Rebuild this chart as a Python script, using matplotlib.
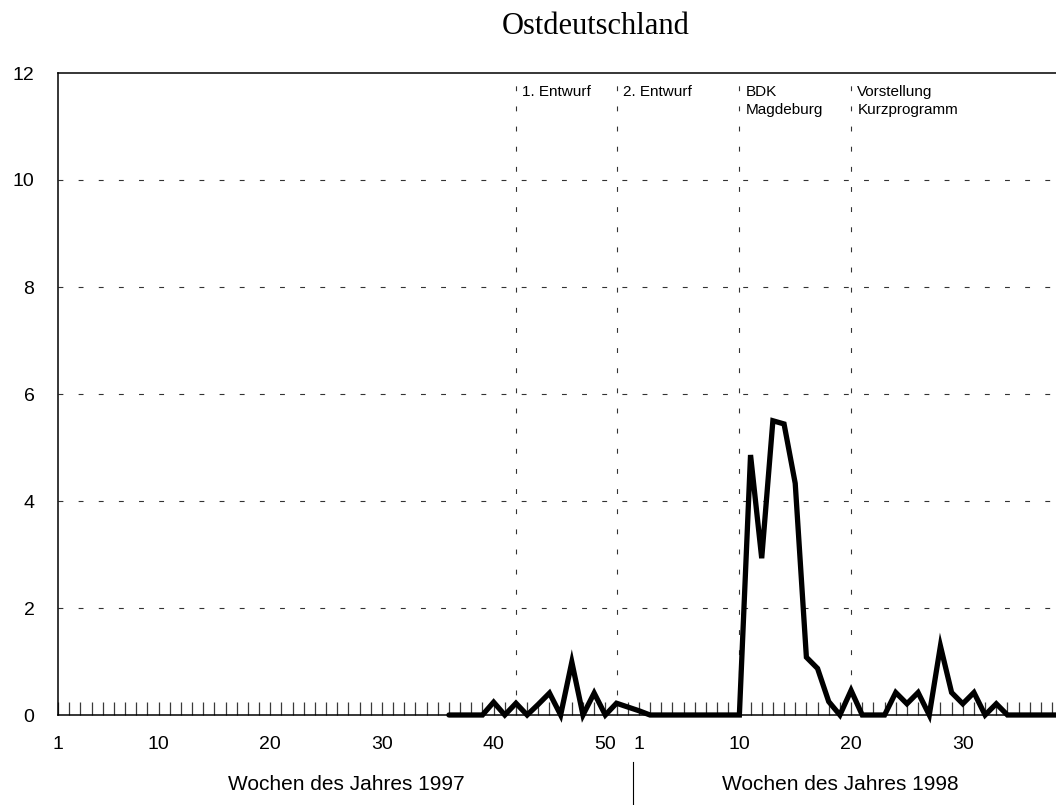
import numpy as np
import matplotlib
matplotlib.use('Agg')
import matplotlib.pyplot as plt
import matplotlib.transforms as mtransforms
from matplotlib.lines import Line2D

plt.rcParams['font.family'] = ['Liberation Sans', 'DejaVu Sans']
plt.rcParams['lines.scale_dashes'] = False

# data: weekly values, 1997 starts at week 36, 1998 from week 1
weeks_1997 = list(range(36, 53))
values_1997 = [0, 0, 0, 0, 0.24, 0, 0.22, 0, 0.20, 0.41, 0, 0.99, 0, 0.41, 0, 0.22, 0.15]
weeks_1998 = list(range(1, 40))
values_1998 = [0.08, 0, 0, 0, 0, 0, 0, 0, 0, 0,
               4.86, 2.93, 5.50, 5.44, 4.33, 1.08, 0.87, 0.25, 0, 0.46,
               0, 0, 0, 0.42, 0.21, 0.42, 0, 1.29, 0.42, 0.21,
               0.42, 0, 0.21, 0, 0, 0, 0, 0, 0]

tick_weeks_1997 = [1, 10, 20, 30, 40, 50]
tick_weeks_1998 = [1, 10, 20, 30]

# events: (year, week, label lines)
events = [(1997, 42, ['1. Entwurf']),
          (1997, 51, ['2. Entwurf']),
          (1998, 10, ['BDK', 'Magdeburg']),
          (1998, 20, ['Vorstellung', 'Kurzprogramm'])]


def pos(year, week):
    # position on a continuous week axis, 52 weeks in 1997
    return (week - 1) + (52 if year == 1998 else 0)


x = [pos(1997, w) for w in weeks_1997] + [pos(1998, w) for w in weeks_1998]
y = values_1997 + values_1998

fig = plt.figure(figsize=(10.56, 8.05), dpi=100)
ax = fig.add_axes([58 / 1056, 90 / 805, 1074 / 1056, 642 / 805])

ax.set_xlim(0, 1074 / 11.17)
ax.set_ylim(0, 12)

# horizontal grid
for g in [2, 4, 6, 8, 10]:
    ax.axhline(g, color='#333333', lw=0.8, linestyle=(0, (3.5, 11)), zorder=1)

# event lines and labels
for year, week, lines in events:
    xe = pos(year, week)
    ax.axvline(xe, color='#333333', lw=0.8, linestyle=(0, (3.5, 11)), zorder=1)
    for i, t in enumerate(lines):
        ax.annotate(t, (xe, 11.57), xytext=(4.5, -13 * i), textcoords='offset points',
                    fontsize=11, va='baseline', ha='left')

ax.plot(x, y, color='black', lw=3.8, solid_capstyle='round', solid_joinstyle='miter',
        clip_on=False, zorder=5)

ticks = [pos(1997, w) for w in tick_weeks_1997] + [pos(1998, w) for w in tick_weeks_1998]
labels = [str(w) for w in tick_weeks_1997] + [str(w) for w in tick_weeks_1998]
ax.set_xticks(ticks)
ax.set_xticklabels(labels, fontsize=14)
ax.set_xticks(np.arange(0, 97), minor=True)
ax.tick_params(axis='x', which='both', direction='in', length=9.5, width=0.9,
               color='#3a3a3a', pad=15)

ax.set_yticks([0, 2, 4, 6, 8, 10, 12])
ax.tick_params(axis='y', length=0, pad=17, labelsize=14)

for s in ax.spines.values():
    s.set_linewidth(1.1)

# year captions under the axis
ax.text(25.8, -0.109, 'Wochen des Jahres 1997', transform=ax.get_xaxis_transform(),
        ha='center', va='center', fontsize=15)
ax.text(70.0, -0.109, 'Wochen des Jahres 1998', transform=ax.get_xaxis_transform(),
        ha='center', va='center', fontsize=15)
trans = mtransforms.blended_transform_factory(ax.transData, fig.transFigure)
fig.add_artist(Line2D([51.5, 51.5], [0, 43 / 805], transform=trans, color='black', lw=0.8))

fig.text(595.5 / 1056, 1 - 34 / 805, 'Ostdeutschland', ha='center', va='baseline',
         fontsize=22, family=['Liberation Serif', 'DejaVu Serif'])

fig.savefig('out.png', dpi=100)
